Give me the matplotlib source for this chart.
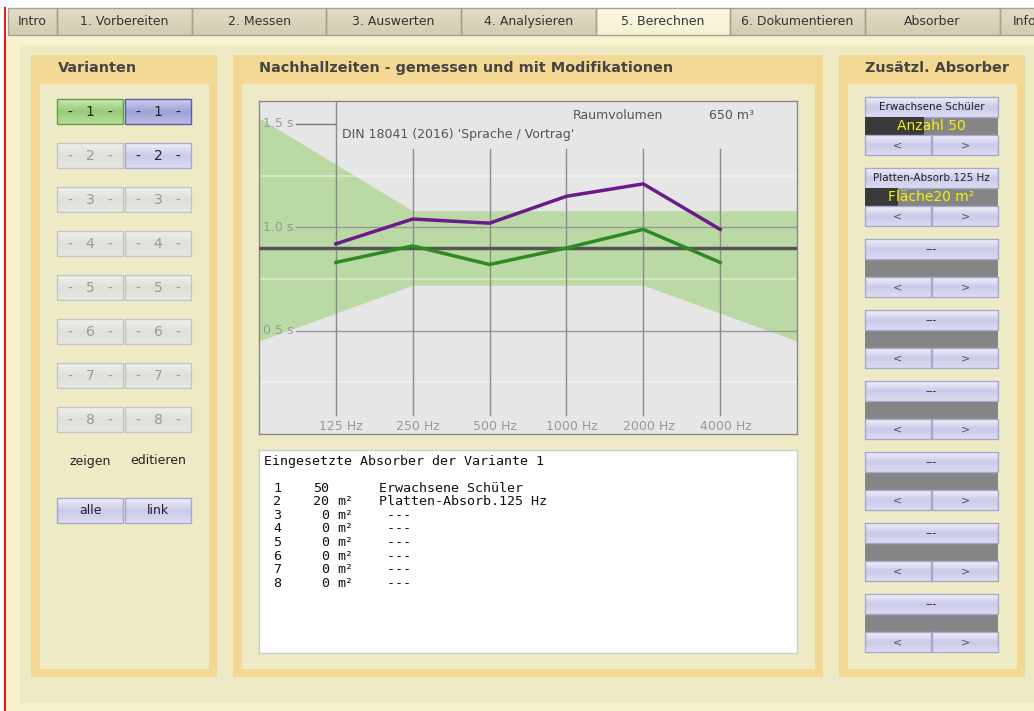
import numpy as np
import matplotlib
matplotlib.use('Agg')
import matplotlib.pyplot as plt
from matplotlib.patches import Rectangle
from matplotlib.colors import LinearSegmentedColormap

# ---- data ----
tabs = ['Intro', '1. Vorbereiten', '2. Messen', '3. Auswerten', '4. Analysieren',
        '5. Berechnen', '6. Dokumentieren', 'Absorber', 'Info']
active_tab = '5. Berechnen'

freq_labels = ['125 Hz', '250 Hz', '500 Hz', '1000 Hz', '2000 Hz', '4000 Hz']
t_gemessen = [0.92, 1.04, 1.02, 1.15, 1.21, 0.99]      # lila
t_variante = [0.83, 0.91, 0.82, 0.90, 0.99, 0.83]      # gruen
t_soll = 0.9
# DIN 18041 toleranzband (63 Hz ... 8000 Hz)
band_pos = [-1, 1, 4, 6]
band_upper = [1.53, 1.08, 1.08, 1.08]
band_lower = [0.45, 0.72, 0.72, 0.45]
raumvolumen = '650 m³'
norm_text = "DIN 18041 (2016) 'Sprache / Vortrag'"

absorber_names = ['Erwachsene Schüler', 'Platten-Absorb.125 Hz', '---', '---', '---', '---', '---', '---']
absorber_values = [50, 20, 0, 0, 0, 0, 0, 0]
absorber_units = ['', 'm²', 'm²', 'm²', 'm²', 'm²', 'm²', 'm²']
absorber_labels = ['Anzahl 50', 'Fläche20 m²', '', '', '', '', '', '']
absorber_fill = [0.44, 0.25, 0, 0, 0, 0, 0, 0]

W, H = 1034, 711
fig = plt.figure(figsize=(W / 100, H / 100), dpi=100)
ax = fig.add_axes([0, 0, 1, 1])
ax.axis('off')


def rect(x, y, w, h, fc, ec='none', lw=0, z=1):
    ax.add_patch(Rectangle((x, y), w, h, facecolor=fc, edgecolor=ec, linewidth=lw, zorder=z))


def grad(x, y, w, h, stops, z=2):
    cmap = LinearSegmentedColormap.from_list('g', stops)
    ax.imshow(np.linspace(0, 1, 60)[:, None], cmap=cmap, extent=(x, x + w, y + h, y),
              aspect='auto', zorder=z, interpolation='bilinear')


def button(x, y, w, h, stops, ec, text='', tc='#333333', fs=9, z=2):
    grad(x, y, w, h, stops, z)
    rect(x, y, w, h, 'none', ec, 1, z + 0.1)
    if text:
        ax.text(x + w / 2, y + h / 2, text, ha='center', va='center', color=tc, fontsize=fs, zorder=z + 0.2)


# ---- background ----
rect(0, 0, W, H, 'white', z=0)
rect(5, 35, W, H, '#f6f2cd', z=0.1)
rect(20, 46, W, 657, '#eeeac5', z=0.2)
ax.plot([4.5, 4.5], [8, H], color='#e02020', lw=1.5, zorder=5)

# tabs (the last one is cut by the window edge)
edges = [8, 57, 192, 326, 461, 596, 730, 865, 1000, 1049]
for i, name in enumerate(tabs):
    x0, x1 = edges[i], edges[i + 1]
    if name == active_tab:
        stops = ['#fbf9e4', '#f4f0d2']
    else:
        stops = ['#e2ddc6', '#d2ccb2']
    button(x0, 8, x1 - x0, 27, stops, '#a8a28a', name, '#333333', 9)

# panels
for (x0, x1) in [(31, 217), (233, 823), (839, 1025)]:
    rect(x0, 55, x1 - x0, 622, '#f3d993', z=0.5)
    rect(x0 + 9, 84, x1 - x0 - 17, 585, '#eeeac6', z=0.6)

ax.text(97, 68, 'Varianten', ha='center', va='center', fontsize=10.4, weight='bold', color='#444444')
ax.text(259, 68, 'Nachhallzeiten - gemessen und mit Modifikationen', ha='left', va='center',
        fontsize=10.4, weight='bold', color='#444444')
ax.text(937, 68, 'Zusätzl. Absorber', ha='center', va='center', fontsize=10.4, weight='bold', color='#444444')

# Varianten buttons
green = ['#c6e6b0', '#98cc78', '#b4dc9a']
blue_sel = ['#d0d0f0', '#a0a0d6', '#bcbce4']
blue = ['#f0f0fa', '#cacaea', '#dcdcf2']
grey = ['#f0f0ec', '#e0e0da', '#e8e8e2']
for i in range(8):
    y = 99 + 44 * i
    lab = '-   %d   -' % (i + 1)
    if i == 0:
        button(57, y, 66, 25, green, '#5f9e45', lab, '#222222', 10)
        button(125, y, 66, 25, blue_sel, '#5a5aaa', lab, '#222222', 10)
    elif i == 1:
        button(57, y, 66, 25, grey, '#c4c4c4', lab, '#999999', 10)
        button(125, y, 66, 25, blue, '#a8a8cc', lab, '#222222', 10)
    else:
        button(57, y, 66, 25, grey, '#c4c4c4', lab, '#999999', 10)
        button(125, y, 66, 25, grey, '#c4c4c4', lab, '#999999', 10)
ax.text(90, 461, 'zeigen', ha='center', va='center', fontsize=9, color='#222222')
ax.text(158, 461, 'editieren', ha='center', va='center', fontsize=9, color='#222222')
button(57, 498, 66, 25, blue, '#a8a8cc', 'alle', '#222222', 9)
button(125, 498, 66, 25, blue, '#a8a8cc', 'link', '#222222', 9)

# Zusaetzl. Absorber widgets
for i in range(8):
    top = 97 + 71 * i
    button(865, top, 133, 20, blue, '#a8a8cc', absorber_names[i], '#222222', 7.5)
    rect(865, top + 20, 133, 18, '#858585', z=2)
    if absorber_fill[i] > 0:
        rect(865, top + 20, 133 * absorber_fill[i], 18, '#3a3a3a', z=2.1)
    if absorber_labels[i]:
        ax.text(931.5, top + 29, absorber_labels[i], ha='center', va='center', fontsize=10,
                color='#f4f00a', zorder=3)
    button(865, top + 38, 66, 20, blue, '#a8a8cc', '<', '#555555', 8)
    button(932, top + 38, 66, 20, blue, '#a8a8cc', '>', '#555555', 8)

# text box
rect(259, 450, 538, 203, 'white', '#cccccc', 1, z=2)
mono = 'DejaVu Sans Mono'
ax.text(264, 461, 'Eingesetzte Absorber der Variante 1', ha='left', va='center',
        fontsize=9.6, family=mono, color='#111111', zorder=3)
for i in range(8):
    y = 488 + 13.6 * i
    ax.text(273, y, str(i + 1), ha='left', va='center', fontsize=9.6, family=mono, color='#111111', zorder=3)
    ax.text(329, y, str(absorber_values[i]), ha='right', va='center', fontsize=9.6, family=mono,
            color='#111111', zorder=3)
    ax.text(337, y, absorber_units[i], ha='left', va='center', fontsize=9.6, family=mono,
            color='#111111', zorder=3)
    name = absorber_names[i] if absorber_names[i] != '---' else ' ---'
    ax.text(379, y, name, ha='left', va='center', fontsize=9.6, family=mono, color='#111111', zorder=3)

ax.set_xlim(0, W)
ax.set_ylim(H, 0)

# ---- chart ----
cx0, cx1, cy0, cy1 = 259, 797, 101, 434
ch = fig.add_axes([cx0 / W, (H - cy1) / H, (cx1 - cx0) / W, (cy1 - cy0) / H])
ch.set_facecolor('#e6e6e6')
ch.set_xlim(-1, 6)
ch.set_ylim(0, 1.611)
ch.set_xticks([])
ch.set_yticks([])
for s in ch.spines.values():
    s.set_color('#888888')
    s.set_linewidth(1)

ch.fill_between(band_pos, band_lower, band_upper, color='#bad9a4', lw=0, zorder=1)
for yv in [1.25, 0.75, 0.25]:
    ch.plot([-1, 6], [yv, yv], color='white', alpha=0.45, lw=1.2, zorder=2)
for yv in [1.0, 0.5]:
    ch.plot([-0.52, 6], [yv, yv], color='#999999', lw=1, zorder=2)
ch.plot([-0.52, 0], [1.5, 1.5], color='#777777', lw=1, zorder=2)
for lab, yv in [('1.5 s', 1.5), ('1.0 s', 1.0), ('0.5 s', 0.5)]:
    ch.text(-0.95, yv, lab, ha='left', va='center', fontsize=9, color='#999999', zorder=3)

x = np.arange(len(freq_labels))
for xi in x:
    ch.plot([xi, xi], [0.092, 1.611 if xi == 0 else 1.379], color='#8a8a8a', lw=1, zorder=2)
    ch.text(xi + 0.07, 0.034, freq_labels[xi], ha='center', va='center', fontsize=9, color='#999999')

ch.axhline(t_soll, color='#555555', lw=2.5, zorder=3)
ch.plot(x, t_gemessen, color='#6a1b8c', lw=2.5, zorder=4)
ch.plot(x, t_variante, color='#2e8b22', lw=2.5, zorder=4)

ch.text(3.085, 1.543, 'Raumvolumen', ha='left', va='center', fontsize=9, color='#555555')
ch.text(4.855, 1.543, raumvolumen, ha='left', va='center', fontsize=9, color='#555555')
ch.text(0.08, 1.447, norm_text, ha='left', va='center', fontsize=9, color='#555555')

fig.savefig('out.png', dpi=100)
